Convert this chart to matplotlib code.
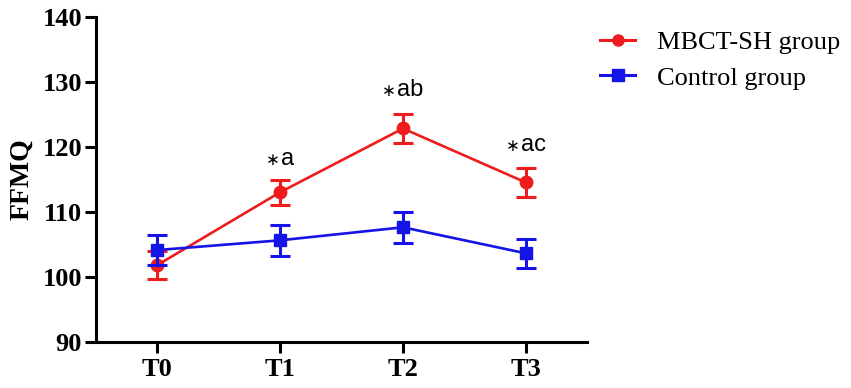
import matplotlib
matplotlib.use("Agg")
import matplotlib.pyplot as plt
from matplotlib.lines import Line2D
from matplotlib.offsetbox import TextArea, HPacker, AnnotationBbox

timepoints = ["T0", "T1", "T2", "T3"]
mbct_mean = [101.8, 113.0, 122.8, 114.5]
mbct_err = [2.2, 1.9, 2.2, 2.2]
ctrl_mean = [104.1, 105.6, 107.6, 103.6]
ctrl_err = [2.3, 2.4, 2.4, 2.2]
annot_letters = ["", "a", "ab", "ac"]
annot_y = [None, 118.1, 128.7, 120.3]

red = "#ee1c1c"
blue = "#1414e6"

fig = plt.figure(figsize=(8.51, 3.88), dpi=100)
ax = fig.add_axes([0.1128, 0.1193, 0.690 - 0.1128, 0.957 - 0.1193])

x = list(range(len(timepoints)))
ax.errorbar(x, mbct_mean, yerr=mbct_err, color=red, marker="o", markersize=9,
            linewidth=1.9, elinewidth=2.2, capsize=7, capthick=2.2, zorder=3)
ax.errorbar(x, ctrl_mean, yerr=ctrl_err, color=blue, marker="s", markersize=9,
            linewidth=1.9, elinewidth=2.2, capsize=7, capthick=2.2, zorder=4)

for xi, letters, yy in zip(x, annot_letters, annot_y):
    if letters:
        star = TextArea("∗", textprops=dict(fontsize=12, family=["DejaVu Sans"], color="black"))
        lets = TextArea(letters, textprops=dict(fontsize=17, family="Liberation Sans", color="black"))
        box = HPacker(children=[star, lets], align="baseline", pad=0, sep=1)
        ab = AnnotationBbox(box, (xi, yy), xycoords="data", frameon=False, box_alignment=(0.5, 0.5))
        ax.add_artist(ab)

ax.set_xlim(-0.5, 3.5)
ax.set_ylim(90, 140)
ax.set_yticks([90, 100, 110, 120, 130, 140])
ax.set_xticks(x)
ax.set_xticklabels(timepoints)
for sp in ["top", "right"]:
    ax.spines[sp].set_visible(False)
for sp in ["left", "bottom"]:
    ax.spines[sp].set_linewidth(2.2)
ax.tick_params(width=2.2, length=8, labelsize=19, pad=2)
ax.tick_params(axis="x", pad=4)
for lab in ax.get_xticklabels() + ax.get_yticklabels():
    lab.set_fontfamily("Liberation Serif")
    lab.set_fontweight("bold")
ax.set_ylabel("FFMQ", fontsize=20, fontweight="bold", family="Liberation Serif", labelpad=6)

handles = [Line2D([0], [0], color=red, marker="o", markersize=8, linewidth=2.2),
           Line2D([0], [0], color=blue, marker="s", markersize=8, linewidth=2.2)]
leg = ax.legend(handles, ["MBCT-SH group", "Control group"], loc="upper left",
                bbox_to_anchor=(0.705, 0.922), bbox_transform=fig.transFigure,
                frameon=False, prop={"family": "Liberation Serif", "size": 19},
                borderpad=0, borderaxespad=0,
                handlelength=1.33, handletextpad=0.83, labelspacing=0.47)

fig.savefig("out.png", dpi=100)
